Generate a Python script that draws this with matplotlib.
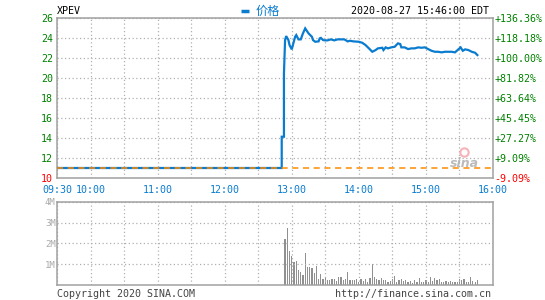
import numpy as np
import matplotlib
matplotlib.use("Agg")
import matplotlib.pyplot as plt
from matplotlib.lines import Line2D

# minutes after 09:30 and price
price_min = [0, 201, 201, 203, 203, 204, 205, 207, 208, 210, 211, 213, 214, 216, 218,
             220, 222, 223, 225, 228, 229, 231, 234, 235, 236, 238, 240, 242, 245, 248,
             251, 254, 257, 260, 262, 265, 270, 273, 276, 279, 282, 285, 287, 291, 292,
             294, 296, 299, 302, 305, 307, 308, 311, 314, 317, 320, 323, 326, 329, 332,
             335, 338, 341, 344, 347, 350, 353, 356, 359, 361, 363, 365, 368, 371, 374, 376]
price_val = [11.03, 11.03, 14.16, 14.16, 20.5, 23.83, 24.23, 23.83, 23.33, 22.9, 23.33, 24.16, 24.33, 23.9, 23.9,
             24.5, 25.0, 24.83, 24.5, 24.16, 23.83, 23.66, 23.7, 24.0, 24.05, 23.83, 23.8, 23.8, 23.9, 23.8,
             23.9, 23.9, 23.9, 23.7, 23.76, 23.7, 23.66, 23.56, 23.33, 23.0, 22.66, 22.83, 23.0, 23.06, 22.83,
             23.1, 23.0, 23.1, 23.16, 23.5, 23.43, 23.1, 23.1, 22.93, 23.0, 23.0, 23.1, 23.06, 23.1, 22.93,
             22.76, 22.66, 22.66, 22.6, 22.66, 22.66, 22.66, 22.6, 22.9, 23.1, 22.76, 22.9, 22.83, 22.66, 22.56, 22.33]
prev_close = 11.0

# volume every 2 minutes (millions of shares)
vol_min = list(range(204, 378, 2))
vol_val = [2.2, 2.75, 1.63, 1.41, 1.12, 1.17, 0.72, 0.62, 0.48, 1.56,
           0.87, 0.87, 0.8, 0.59, 0.91, 0.27, 0.54, 0.3, 0.33, 0.24,
           0.22, 0.27, 0.3, 0.2, 0.4, 0.4, 0.24, 0.3, 0.62, 0.24,
           0.24, 0.24, 0.27, 0.14, 0.29, 0.21, 0.29, 0.16, 0.32, 1.0,
           0.37, 0.29, 0.24, 0.34, 0.24, 0.24, 0.16, 0.21, 0.27, 0.43,
           0.16, 0.24, 0.27, 0.19, 0.24, 0.16, 0.19, 0.11, 0.24, 0.14,
           0.34, 0.16, 0.13, 0.24, 0.16, 0.38, 0.21, 0.34, 0.24, 0.29,
           0.16, 0.16, 0.21, 0.16, 0.21, 0.13, 0.16, 0.16, 0.29, 0.24,
           0.29, 0.16, 0.16, 0.38, 0.21, 0.16, 0.26]

price_ticks = [10, 12, 14, 16, 18, 20, 22, 24, 26]
pct_labels = ['-9.09%', '+9.09%', '+27.27%', '+45.45%', '+63.64%',
              '+81.82%', '+100.00%', '+118.18%', '+136.36%']
time_ticks = list(range(0, 391, 30))
time_labels = ['09:30', '10:00', '', '11:00', '', '12:00', '', '13:00',
               '', '14:00', '', '15:00', '', '16:00']
vol_ticks = [1, 2, 3, 4]
vol_labels = ['1M', '2M', '3M', '4M']

MONO = 'DejaVu Sans Mono'
FS = 7.2
green = '#008000'
red = '#ff0000'
blue = '#0a7ccf'
grey = '#999999'

fig = plt.figure(figsize=(5.45, 3.0), dpi=100)
ax = fig.add_axes([0.1046, 0.4057, 0.8, 0.533])
axv = fig.add_axes([0.1046, 0.05, 0.8, 0.2777])

for a in (ax, axv):
    for s in a.spines.values():
        s.set_color('#a0a0a0')
        s.set_linewidth(1.1)
    a.set_xlim(0, 390)
    a.set_xticks(time_ticks)
    a.grid(True, color='#b0b0b0', linestyle=(0, (1, 2)), linewidth=0.9)
    a.tick_params(length=0)

ax.plot(price_min, price_val, color=blue, linewidth=1.6, solid_joinstyle='miter', zorder=3)
ax.axhline(prev_close, color='#ff8c00', linestyle=(0, (4, 3)), linewidth=1.1, zorder=4)
ax.set_ylim(10, 26)
ax.set_yticks(price_ticks)
ax.set_yticklabels([str(t) for t in price_ticks], fontfamily=MONO, fontsize=FS)
for lab, t in zip(ax.get_yticklabels(), price_ticks):
    lab.set_color(red if t <= prev_close else green)
ax.set_xticklabels(time_labels, fontfamily=MONO, fontsize=FS, color=blue)
ax.tick_params(axis='y', pad=3)
ax.tick_params(axis='x', pad=5)

axr = ax.twinx()
axr.set_ylim(10, 26)
axr.set_yticks(price_ticks)
axr.set_yticklabels(pct_labels, fontfamily=MONO, fontsize=FS)
for lab, t in zip(axr.get_yticklabels(), price_ticks):
    lab.set_color(red if t <= prev_close else green)
axr.tick_params(length=0, pad=1)
for s in axr.spines.values():
    s.set_visible(False)

axv.bar(vol_min, vol_val, width=1.1, color='#909090', linewidth=0)
axv.set_ylim(0, 4)
axv.set_yticks(vol_ticks)
axv.set_yticklabels(vol_labels, fontfamily=MONO, fontsize=6.5, color='#aaaaaa')
axv.set_xticklabels([])
axv.tick_params(axis='y', pad=1)

# header
fig.text(0.1046, 0.947, 'XPEV', fontfamily=MONO, fontsize=FS, color='black', va='bottom')
fig.lines.append(Line2D([0.442, 0.457], [0.965, 0.965], transform=fig.transFigure,
                        color=blue, linewidth=2.5, solid_capstyle='butt'))
fig.text(0.469, 0.942, '价格', fontfamily=['Noto Sans CJK SC'], fontsize=8.8, color=blue, va='bottom')
fig.text(0.898, 0.947, '2020-08-27 15:46:00 EDT', fontfamily=MONO, fontsize=FS,
         color='black', va='bottom', ha='right')

# footer
fig.text(0.1046, 0.003, 'Copyright 2020 SINA.COM', fontfamily=MONO, fontsize=FS,
         color='#444444', va='bottom')
fig.text(0.9, 0.003, 'http://finance.sina.com.cn', fontfamily=MONO, fontsize=FS,
         color='#444444', va='bottom', ha='right')

# watermark
ax.text(364, 10.8, 'sina', fontsize=9, fontstyle='italic', fontweight='bold',
        color='#aaaaaa', alpha=0.8, ha='center', va='bottom', zorder=2)
ax.plot([364], [12.6], marker='o', markersize=6, markerfacecolor='none',
        markeredgecolor='#f4a0a8', markeredgewidth=1.5, alpha=0.8, zorder=2)

fig.savefig('out.png', dpi=100)
